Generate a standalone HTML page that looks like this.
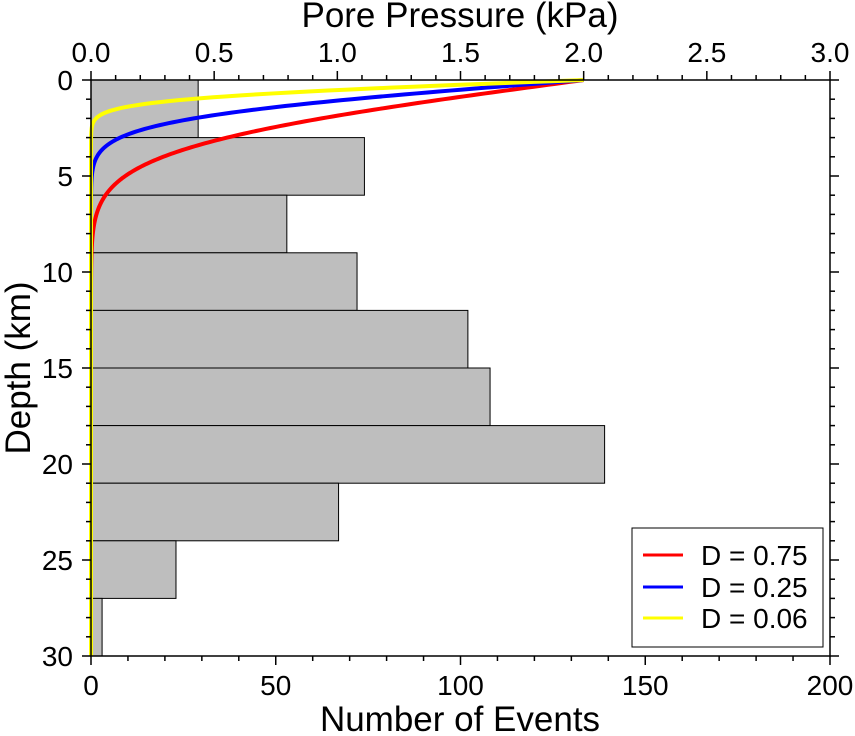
<!DOCTYPE html>
<html><head><meta charset="utf-8"><style>
html,body{margin:0;padding:0;background:#fff;}
svg{display:block;font-family:"Liberation Sans",Arial,sans-serif;}
</style></head><body>
<svg id="s" width="855" height="736" viewBox="0 0 855 736" xmlns="http://www.w3.org/2000/svg">
<g id="bars" fill="#bebebe" stroke="#000" stroke-width="1"></g>
<g id="curves" fill="none" stroke-width="4"></g>
<rect x="91" y="80" width="739" height="576" fill="none" stroke="#000" stroke-width="1.5"/>
<g id="ticks" stroke="#000" stroke-width="1.5"></g>
<g id="labels" font-size="28" fill="#000"></g>
<text x="460" y="27" font-size="35" text-anchor="middle">Pore Pressure (kPa)</text>
<text x="460" y="731" font-size="35" text-anchor="middle">Number of Events</text>
<text transform="translate(30,368) rotate(-90)" font-size="35" text-anchor="middle">Depth (km)</text>
<rect x="632" y="528" width="191" height="119" fill="#fff" stroke="#000" stroke-width="1"/>
<line x1="643" y1="555" x2="683" y2="555" stroke="#f00" stroke-width="3"/>
<line x1="643" y1="587" x2="683" y2="587" stroke="#00f" stroke-width="3"/>
<line x1="643" y1="618" x2="683" y2="618" stroke="#ff0" stroke-width="3"/>
<text x="701" y="565" font-size="28">D = 0.75</text>
<text x="701" y="597" font-size="28">D = 0.25</text>
<text x="701" y="628" font-size="28">D = 0.06</text>
</svg>
<script>
var NS="http://www.w3.org/2000/svg";
function el(p,t,a){var e=document.createElementNS(NS,t);for(var k in a)e.setAttribute(k,a[k]);document.getElementById(p).appendChild(e);return e;}
var X0=91,X1=830,Y0=80,Y1=656;
var ky=(Y1-Y0)/30, ke=(X1-X0)/200, kp=(X1-X0)/3;
var counts=[29,74,53,72,102,108,139,67,23,3];
counts.forEach(function(c,i){el("bars","rect",{x:X0,y:Y0+i*3*ky,width:c*ke,height:3*ky});});
function erfc(x){var t=1/(1+0.3275911*x);var y=t*(0.254829592+t*(-0.284496736+t*(1.421413741+t*(-1.453152027+t*1.061405429))));return y*Math.exp(-x*x);}
[[0.75,"#f00"],[0.25,"#00f"],[0.06,"#ff0"]].forEach(function(d){
 var L=4.5*Math.sqrt(d[0]);var s="";
 for(var i=0;i<=600;i++){var z=i*0.05;var p=2*erfc(z/L);s+=(i?"L":"M")+(X0+p*kp).toFixed(2)+","+(Y0+z*ky).toFixed(2);}
 el("curves","path",{d:s,stroke:d[1]});
});
function ln(x1,y1,x2,y2){el("ticks","line",{x1:x1,y1:y1,x2:x2,y2:y2});}
function tx(x,y,s,a){var e=el("labels","text",{x:x,y:y,"text-anchor":a});e.textContent=s;}
for(var z=0;z<=30;z++){var y=Y0+z*ky;var L=z%5==0?9:5;ln(X0-L,y,X0,y);ln(X1,y,X1+L,y);if(z%5==0)tx(X0-18,y+10,""+z,"end");}
for(var e=0;e<=200;e+=10){var x=X0+e*ke;var L=e%50==0?9:5;ln(x,Y1,x,Y1+L);if(e%50==0)tx(x,Y1+39,""+e,"middle");}
for(var i=0;i<=30;i++){var x=X0+i*0.1*kp;var L=i%5==0?9:5;ln(x,Y0-L,x,Y0);if(i%5==0)tx(x,Y0-18,(i/10).toFixed(1),"middle");}
</script>
</body></html>
